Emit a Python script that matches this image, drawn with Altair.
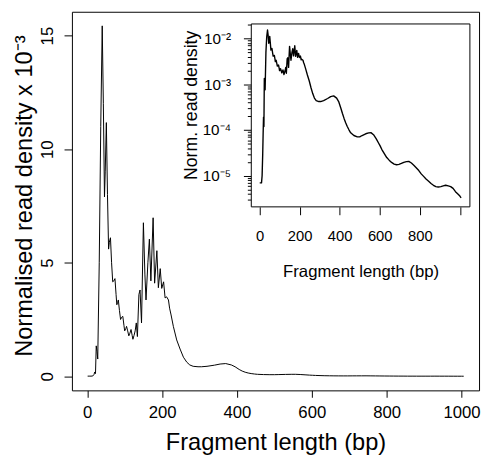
import math
import altair as alt
import pandas as pd

FONT = "Liberation Sans"

# ---- data (density in units of 10^-3) ----
bp = [1, 5, 10, 13, 16, 18, 20, 22, 24, 26, 28, 32, 36, 40, 43, 46, 48, 51, 54, 57,
      59, 62, 65, 68, 71, 74, 77, 79, 81, 83, 86, 89, 92, 95, 98, 100, 103, 105, 108, 111,
      114, 117, 120, 122, 125, 128, 131, 134, 138, 141, 145, 150, 154, 157, 162, 166, 170, 176, 180, 186,
      190, 195, 199, 204, 208, 212, 217, 220, 224, 230, 239, 248, 257, 266, 274, 283, 296, 305, 320, 340,
      355, 370, 385, 395, 406, 414, 422, 430, 438, 447, 455, 471, 488, 500, 512, 530, 545, 556, 569, 582,
      594, 602, 610, 622, 635, 647, 659, 672, 684, 696, 708, 720, 733, 745, 758, 770, 782, 795, 807, 819,
      831, 844, 856, 868, 880, 892, 905, 917, 929, 942, 954, 966, 978, 990, 1000, 1006]
dens_e3 = [0.007, 0.007, 0.007, 0.010, 0.03, 0.08, 0.19, 0.12, 1.34, 1.1, 0.76, 5.0, 11.0, 15.43, 12.0, 7.9, 9.0, 11.17, 8.0, 5.6,
           5.9, 6.1, 5.0, 4.16, 4.2, 4.3, 3.6, 3.15, 3.25, 3.36, 2.9, 2.5, 2.6, 2.64, 2.25, 2.0, 2.1, 2.2, 2.0, 1.78,
           1.9, 2.06, 1.8, 1.63, 1.8, 2.0, 2.35, 1.75, 3.6, 3.8, 2.35, 6.76, 4.5, 3.36, 5.0, 6.04, 4.2, 6.98, 4.1, 5.53,
           3.9, 4.74, 3.87, 4.16, 3.45, 3.5, 3.36, 3.0, 2.7, 2.2, 1.6, 1.2, 0.84, 0.62, 0.5, 0.44, 0.42, 0.42, 0.44, 0.49,
           0.54, 0.56, 0.5, 0.42, 0.3, 0.23, 0.18, 0.145, 0.12, 0.1, 0.087, 0.076, 0.071, 0.071, 0.076, 0.083, 0.087, 0.088, 0.079, 0.065,
           0.052, 0.045, 0.038, 0.031, 0.025, 0.022, 0.0196, 0.018, 0.0174, 0.0178, 0.0186, 0.0197, 0.0204, 0.0207, 0.019, 0.017, 0.015, 0.013, 0.011, 0.0097,
           0.0085, 0.0076, 0.0068, 0.0062, 0.0058, 0.0057, 0.0058, 0.006, 0.0062, 0.006, 0.0058, 0.0053, 0.0045, 0.004, 0.0036, 0.0033]

x_ticks = [0, 200, 400, 600, 800, 1000]
y_ticks = [0, 5, 10, 15]
inset_x_ticks = [0, 200, 400, 600, 800, 1000]
inset_x_labels = ["0", "200", "400", "600", "800", ""]
inset_major = [1e-2, 1e-3, 1e-4, 1e-5]
inset_major_labels = ["10⁻²", "10⁻³", "10⁻⁴", "10⁻⁵"]

# ---- layout ----
W, H = 414, 385
main_x_dom = [-41, 1047]
main_y_dom = [-0.62, 16.05]
inset_x_dom = [-41, 1050]
inset_y_dom = [2.09e-6, 2.09e-2]
inset_x_rng = [182.4, 404.7]
inset_y_rng = [198.4, 12.4]

inset_minor = [m * 10.0 ** e for e in range(-6, -1) for m in range(2, 10)
               if inset_y_dom[0] <= m * 10.0 ** e <= inset_y_dom[1]]

df = pd.DataFrame({"bp": bp, "main": dens_e3, "dens": [v / 1000.0 for v in dens_e3]})
frame_df = pd.DataFrame({"x0": [inset_x_dom[0]], "x1": [inset_x_dom[1]],
                         "y0": [inset_y_dom[0]], "y1": [inset_y_dom[1]]})

ylab_expr = " : ".join(
    f"abs(log(datum.value)/LN10 - ({math.log10(v):.4f})) < 0.01 ? '{lab}'"
    for v, lab in zip(inset_major, inset_major_labels)) + " : ''"
xlab_expr = " : ".join(
    f"datum.value == {v} ? '{lab}'" for v, lab in zip(inset_x_ticks, inset_x_labels)) + " : datum.label"

common = dict(labelFont=FONT, titleFont=FONT, labelColor="black", titleColor="black",
              tickColor="black", titleFontWeight="normal", grid=False, domain=False,
              labelFlush=False)

main = alt.Chart(df).mark_line(color="black", strokeWidth=1, strokeJoin="round").encode(
    x=alt.X("bp:Q", scale=alt.Scale(domain=main_x_dom, nice=False, zero=False),
            axis=alt.Axis(orient="bottom", values=x_ticks, format="d", tickSize=7, labelFontSize=17,
                          labelBaseline="alphabetic", labelPadding=21,
                          title="Fragment length (bp)", titleFontSize=24,
                          titleBaseline="alphabetic", titleY=60, **common)),
    y=alt.Y("main:Q", scale=alt.Scale(domain=main_y_dom, nice=False, zero=False),
            axis=alt.Axis(orient="left", values=y_ticks, format="d", tickSize=8, labelFontSize=17,
                          labelAngle=270, labelAlign="center", labelBaseline="alphabetic",
                          labelPadding=12,
                          title="Normalised read density x 10⁻³", titleFontSize=24,
                          titleAngle=270, titleBaseline="alphabetic", titleX=-41, titleY=187,
                          **common)),
)

frame = alt.Chart(frame_df).mark_rect(fill="white", stroke="black", strokeWidth=1).encode(
    x=alt.X("x0:Q", scale=alt.Scale(domain=inset_x_dom, range=inset_x_rng, nice=False, zero=False),
            axis=None),
    x2="x1:Q",
    y=alt.Y("y0:Q", scale=alt.Scale(type="log", domain=inset_y_dom, range=inset_y_rng, nice=False),
            axis=alt.Axis(orient="left", offset=-inset_x_rng[0], values=inset_minor, tickSize=4,
                          labels=False, title=None, **common)),
    y2="y1:Q",
)

inset = alt.Chart(df).mark_line(color="black", strokeWidth=1.4, strokeJoin="round").encode(
    x=alt.X("bp:Q", scale=alt.Scale(domain=inset_x_dom, range=inset_x_rng, nice=False, zero=False),
            axis=alt.Axis(orient="bottom", offset=-(H - inset_y_rng[0]), values=inset_x_ticks,
                          tickSize=8, labelFontSize=15, labelBaseline="alphabetic",
                          labelPadding=26, labelExpr=xlab_expr,
                          title="Fragment length (bp)", titleFontSize=17,
                          titleBaseline="alphabetic", titleX=(inset_x_rng[0] + inset_x_rng[1]) / 2,
                          titleY=71, **common)),
    y=alt.Y("dens:Q", scale=alt.Scale(type="log", domain=inset_y_dom, range=inset_y_rng, nice=False),
            axis=alt.Axis(orient="left", offset=-inset_x_rng[0], values=inset_major, tickSize=8,
                          labelFontSize=15.5, labelAlign="right", labelBaseline="middle",
                          labelPadding=13, labelExpr=ylab_expr, labelOverlap=False,
                          title="Norm. read density", titleFontSize=18, titleAngle=270,
                          titleBaseline="alphabetic", titleX=-55.7, titleY=94.7, **common)),
)

chart = alt.layer(main, frame, inset).resolve_scale(
    x="independent", y="independent"
).properties(
    width=W, height=H,
    padding={"left": 65, "top": 0, "right": 3, "bottom": 69},
    autosize=alt.AutoSizeParams(type="none"),
).configure_view(stroke="black", strokeWidth=1)

chart.save("out.html", embed_options={"renderer": "svg", "actions": False})
